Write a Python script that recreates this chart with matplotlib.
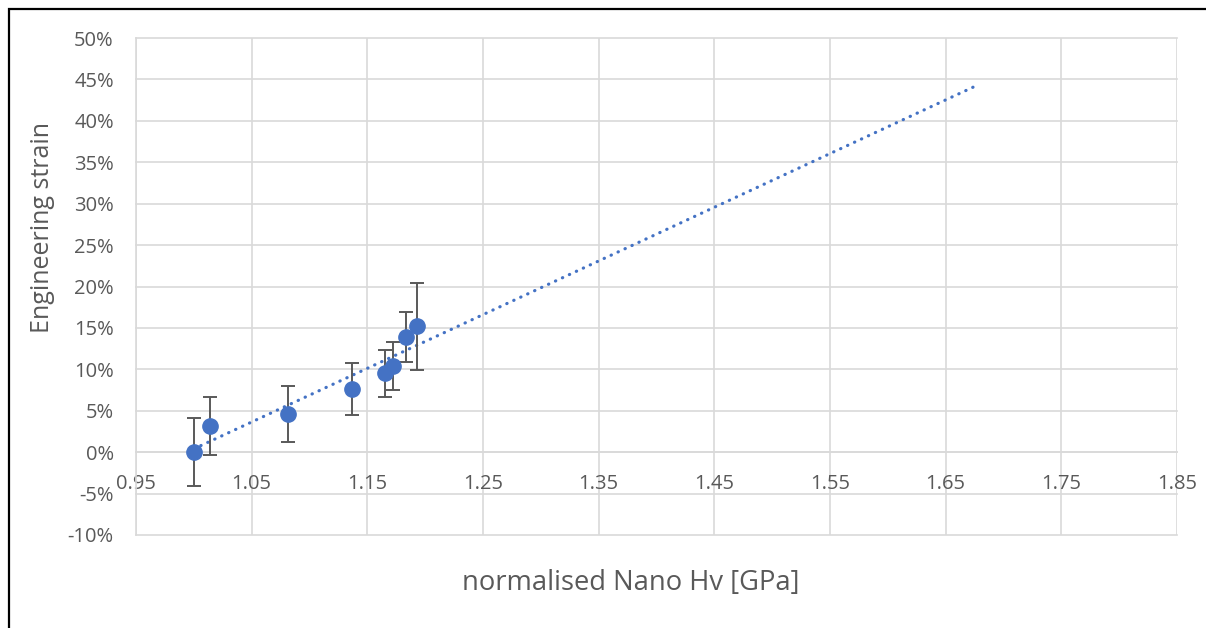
import numpy as np
import matplotlib
matplotlib.use('Agg')
import matplotlib.pyplot as plt
from matplotlib.patches import Rectangle
from matplotlib.ticker import PercentFormatter

# normalised nano hardness and engineering strain (%)
hv = [1.000, 1.014, 1.081, 1.137, 1.165, 1.172, 1.183, 1.193]
strain = [0.0, 3.2, 4.6, 7.65, 9.5, 10.4, 13.9, 15.2]
strain_err = [4.1, 3.5, 3.35, 3.15, 2.8, 2.9, 3.0, 5.25]
trend_end = 1.675  # linear trendline forecast forward

x_ticks = np.arange(0.95, 1.851, 0.1)
y_ticks = np.arange(-10, 50.1, 5)

plt.rcParams['font.family'] = ['Open Sans', 'DejaVu Sans']
plt.rcParams['axes.unicode_minus'] = False
grey = '#595959'
grid_c = '#d9d9d9'
blue = '#4472c4'

fig = plt.figure(figsize=(12.06, 6.28), dpi=100)
ax = fig.add_axes([136 / 1206, 1 - 535 / 628, (1177 - 136) / 1206, (535 - 38) / 628])

# trendline
k, b = np.polyfit(hv, strain, 1)
tx = np.array([min(hv), trend_end])
ax.plot(tx, k * tx + b, color=blue, lw=2.3, linestyle=(0, (0.1, 2.3)),
        dash_capstyle='round', zorder=2)

ax.errorbar(hv, strain, yerr=strain_err, fmt='o', color=blue, ms=11,
            ecolor=grey, elinewidth=1.4, capsize=5, capthick=1.4, zorder=3)

ax.set_xlim(0.95, 1.85)
ax.set_ylim(-10, 50)
ax.set_xticks(x_ticks)
ax.set_xticklabels([f'{t:.2f}' for t in x_ticks])
ax.set_yticks(y_ticks)
ax.yaxis.set_major_formatter(PercentFormatter(decimals=0))

ax.grid(True, color=grid_c, lw=1.2)
for gl in ax.get_xgridlines() + ax.get_ygridlines():
    gl.set_clip_on(False)
ax.set_axisbelow(True)

for s in ['top', 'right']:
    ax.spines[s].set_visible(False)
ax.spines['left'].set_color(grid_c)
ax.spines['left'].set_linewidth(1.2)
ax.spines['bottom'].set_position(('data', 0))
ax.spines['bottom'].set_color(grid_c)
ax.spines['bottom'].set_linewidth(1.2)

ax.tick_params(axis='both', length=0, labelsize=14.5, labelcolor=grey)
ax.tick_params(axis='x', pad=16)
ax.tick_params(axis='y', pad=16)

fig.text(43 / 1206, 1 - 228 / 628, 'Engineering strain', rotation=90,
         ha='center', va='center', fontsize=18, color=grey)
fig.text(631 / 1206, 1 - 583 / 628, 'normalised Nano Hv [GPa]',
         ha='center', va='center', fontsize=19.7, color=grey)

# outer chart border (partially outside the picture)
fig.patches.append(Rectangle((8.5 / 1206, -0.1), 1.2, 1 - 9.5 / 628 + 0.1,
                             transform=fig.transFigure, fill=False,
                             edgecolor='black', lw=1.6))

fig.savefig('out.png', dpi=100)
